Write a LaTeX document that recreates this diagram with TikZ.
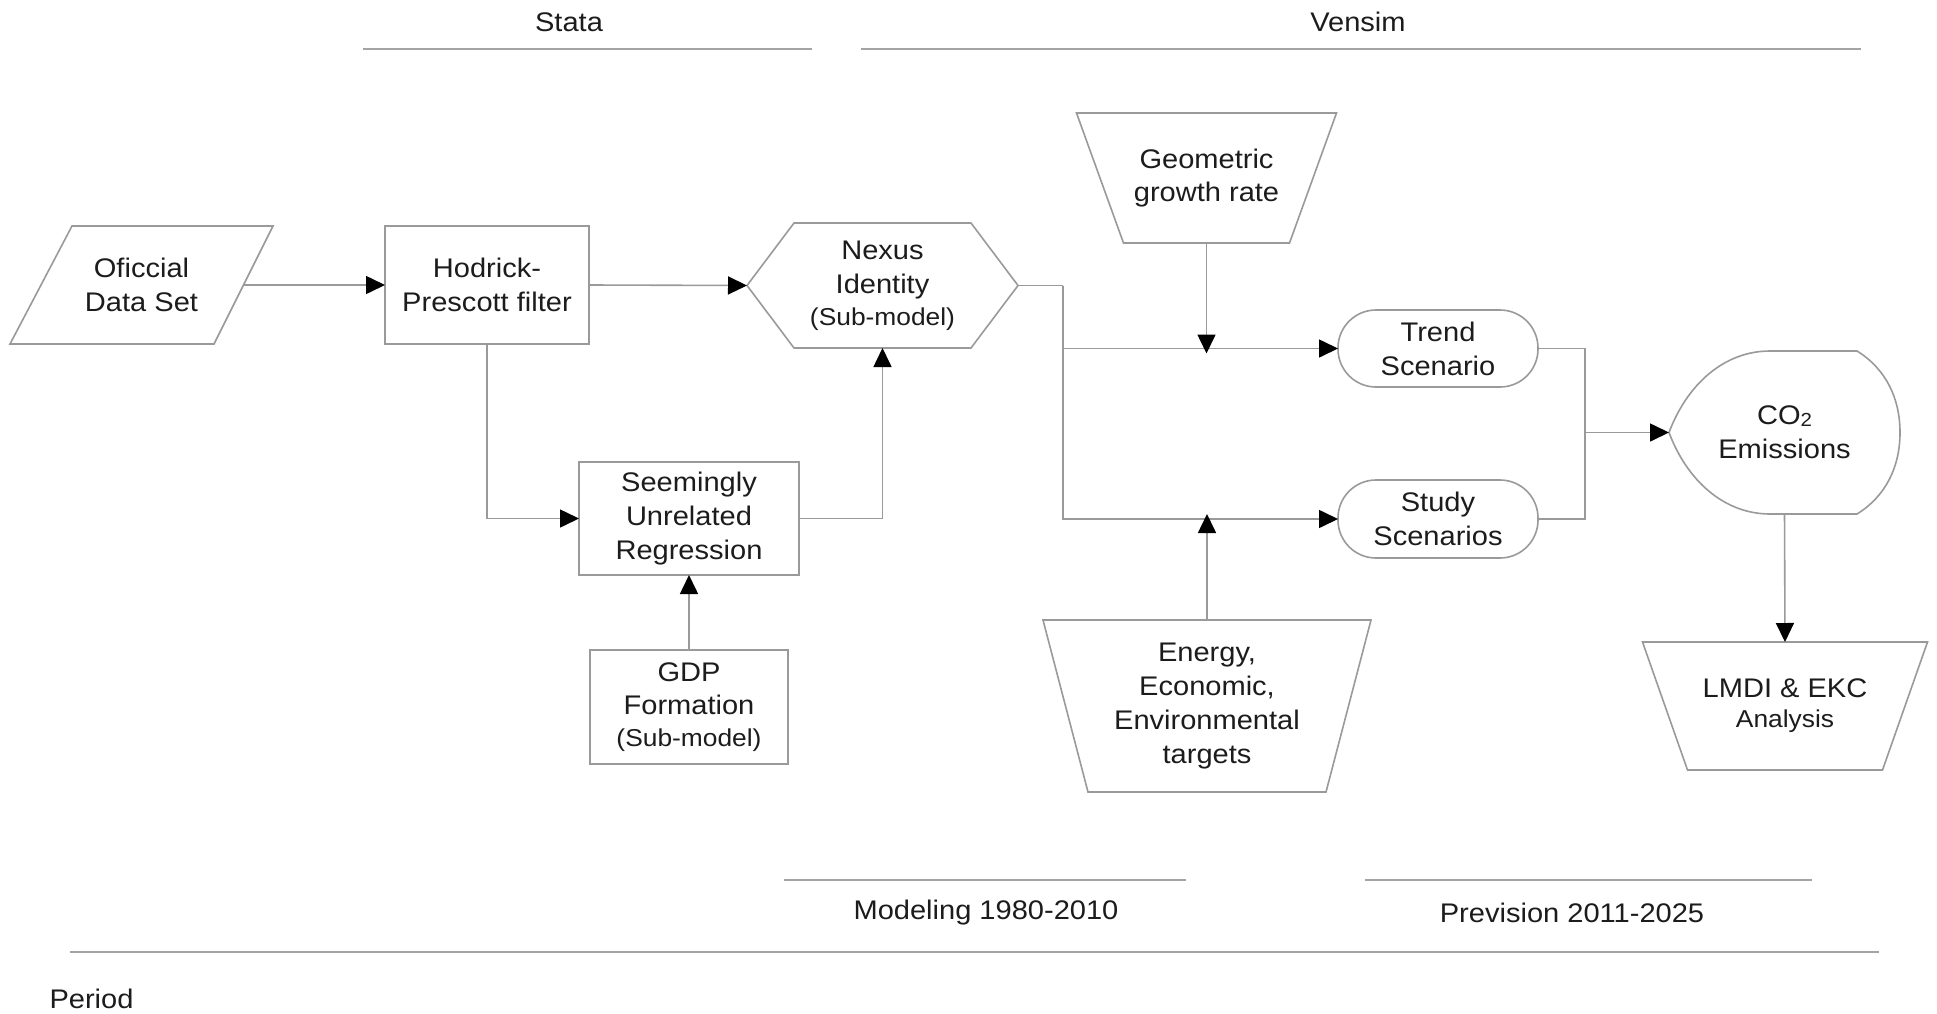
\documentclass[tikz,border=0pt]{standalone}
\usepackage{fontspec}
\setmainfont{Liberation Sans}[FakeStretch=1.08]
\usetikzlibrary{arrows.meta,shapes.misc,calc}
\definecolor{edge}{HTML}{9A9A9A}
\definecolor{txt}{HTML}{1C1C1C}
\tikzset{
  lbl/.style={font=\fontsize{27}{34}\selectfont, text=txt, align=center},
  shp/.style={lbl, inner sep=0pt, outer sep=0pt},
  boxed/.style={shp, draw=edge, line width=1.6bp},
  outline/.style={draw=edge, line width=1.6bp, line join=miter},
  conn/.style={draw=edge, line width=1.6bp, -{Triangle[length=19bp,width=18bp,color=black]}},
  plain/.style={draw=edge, line width=1.6bp},
  rule/.style={draw=edge!90, line width=2.4bp},
}
\newcommand{\smalltxt}[1]{{\fontsize{24.5}{28}\selectfont #1}}
\begin{document}
\begin{tikzpicture}[x=1bp,y=-1bp]
\useasboundingbox[fill=white] (0,0) rectangle (1937,1013);

% header
\node[lbl] (stata) at (569,22) {Stata};
\node[lbl] (vensim) at (1358,22) {Vensim};
\draw[rule] (363,49) -- (812,49);
\draw[rule] (861,49) -- (1861,49);

% nodes
\node[shp, minimum width=263bp, minimum height=118bp] (ods) at (141.5,285) {Oficcial\\Data Set};
\draw[outline] ([xshift=62bp]ods.north west) -- (ods.north east) -- ([xshift=-59bp]ods.south east) -- (ods.south west) -- cycle;

\node[boxed, minimum width=204bp, minimum height=118bp] (hp) at (487,285) {Hodrick-\\Prescott filter};

\node[shp, minimum width=271bp, minimum height=125bp] (nexus) at (882.5,285.5) {Nexus\\Identity\\[-2bp]\smalltxt{(Sub-model)}};
\draw[outline] (nexus.west) -- ([xshift=47bp]nexus.north west) -- ([xshift=-47bp]nexus.north east) -- (nexus.east) -- ([xshift=-47bp]nexus.south east) -- ([xshift=47bp]nexus.south west) -- cycle;

\node[boxed, minimum width=220bp, minimum height=113bp] (sur) at (689,518.5) {Seemingly\\Unrelated\\Regression};

\node[boxed, minimum width=198bp, minimum height=114bp] (gdp) at (689,707) {GDP\\Formation\\[-2bp]\smalltxt{(Sub-model)}};

\node[shp, minimum width=260bp, minimum height=130bp] (geo) at (1206.5,178) {Geometric\\growth rate};
\draw[outline] (geo.north west) -- (geo.north east) -- ([xshift=-47bp]geo.south east) -- ([xshift=47bp]geo.south west) -- cycle;

\node[shp, minimum width=328bp, minimum height=172bp] (energy) at (1207,706) {Energy,\\Economic,\\Environmental\\targets};
\draw[outline] (energy.north west) -- (energy.north east) -- ([xshift=-45bp]energy.south east) -- ([xshift=45bp]energy.south west) -- cycle;

\node[boxed, rounded corners=38bp, minimum width=200bp, minimum height=77bp] (trend) at (1438,348.5) {Trend\\Scenario};
\node[boxed, rounded corners=38bp, minimum width=200bp, minimum height=78bp] (study) at (1438,519) {Study\\Scenarios};

\node[shp, minimum width=231bp, minimum height=163bp] (co2) at (1784.5,432.5) {CO\raisebox{-0.05em}{\fontsize{19}{20}\selectfont 2}\\Emissions};
\draw[outline] (co2.west)
  .. controls ($(co2.west)+(18,-48)$) and ($(co2.north west)+(55,0)$) .. ($(co2.north west)+(101,0)$)
  -- ($(co2.north east)+(-43,0)$)
  .. controls ($(co2.north east)+(-14,18)$) and ($(co2.east)+(0,-34)$) .. (co2.east)
  .. controls ($(co2.east)+(0,34)$) and ($(co2.south east)+(-14,-18)$) .. ($(co2.south east)+(-43,0)$)
  -- ($(co2.south west)+(101,0)$)
  .. controls ($(co2.south west)+(55,0)$) and ($(co2.west)+(18,48)$) .. (co2.west) -- cycle;

\node[shp, minimum width=285bp, minimum height=128bp] (lmdi) at (1785,706) {LMDI \& EKC\\[-4bp]\smalltxt{Analysis}};
\draw[outline] (lmdi.north west) -- (lmdi.north east) -- ([xshift=-45bp]lmdi.south east) -- ([xshift=45bp]lmdi.south west) -- cycle;

% junctions
\coordinate (j1) at (1063,285.5);
\coordinate (j2) at (1585,432.5);

% connectors
\draw[conn] ([xshift=-29.5bp]ods.east) -- (hp.west);
\draw[conn] (hp.east) -- (nexus.west);
\draw[conn] (hp.south) |- (sur.west);
\draw[conn] (sur.east) -| (nexus.south);
\draw[conn] (gdp.north) -- (sur.south);
\draw[plain] (nexus.east) -- (j1);
\draw[conn] (j1) |- (trend.west);
\draw[conn] (j1) |- (study.west);
\draw[conn] (geo.south) -- ([yshift=-5bp]geo.south |- trend.west);
\draw[conn] (energy.north) -- ([yshift=5bp]energy.north |- study.west);
\draw[plain] (trend.east) -| (j2);
\draw[plain] (study.east) -| (j2);
\draw[conn] (j2) -- (co2.west);
\draw[conn] (co2.south) -- (lmdi.north);

% footer
\draw[rule] (784,880) -- (1186,880);
\draw[rule] (1365,880) -- (1812,880);
\node[lbl] (model) at (986,913) {Modeling 1980-2010};
\node[lbl] (prev) at (1572,913) {Prevision 2011-2025};
\draw[rule] (70,952) -- (1879,952);
\node[lbl, anchor=west] (period) at (46,999) {Period};
\end{tikzpicture}
\end{document}
